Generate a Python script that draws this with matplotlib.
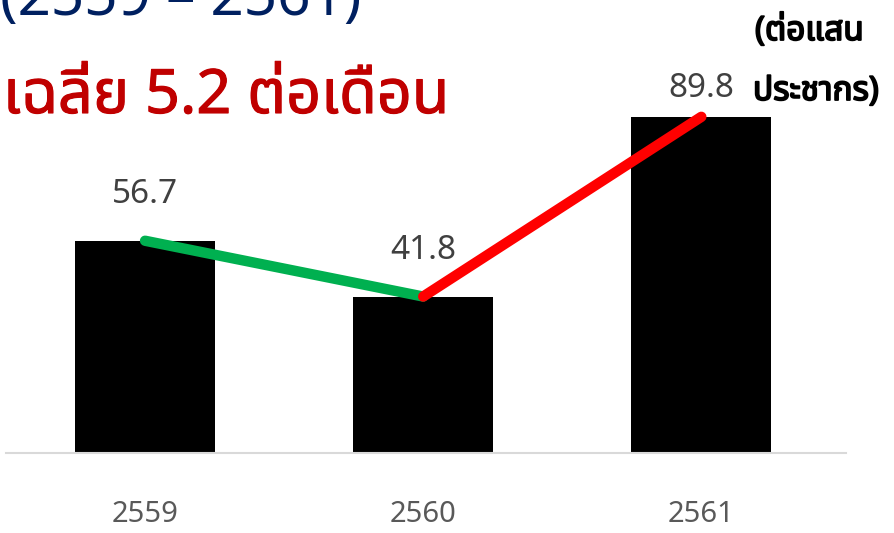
import matplotlib
matplotlib.use("Agg")
import matplotlib.pyplot as plt
import matplotlib.patheffects as pe

years = ["2559", "2560", "2561"]
rates = [56.7, 41.8, 89.8]
seg_colors = ["#00B050", "#FF0000"]
label_offsets = [27, 27, 14]

title_top = "(2559 – 2561)"
title_main = "เฉลี่ย 5.2 ต่อเดือน"
unit_lines = ["(ต่อแสน", "ประชากร)"]

thai = ["Noto Sans Thai", "DejaVu Sans"]

fig = plt.figure(figsize=(8.95, 5.33), dpi=100)
ax = fig.add_axes([0.0067, 0.150, 0.9385, 0.85])

x = list(range(len(years)))
ax.bar(x, rates, width=0.504, color="black", zorder=2)

# trend segments, coloured by direction
for i in range(len(x) - 1):
    ax.plot(x[i:i + 2], rates[i:i + 2], color=seg_colors[i], lw=7.5,
            solid_capstyle="round", zorder=3)

for xi, v, off in zip(x, rates, label_offsets):
    ax.annotate(f"{v:.1f}", (xi, v), xytext=(0, off), textcoords="offset points",
                ha="center", va="baseline", fontsize=24, color="#404040", family=thai)

ax.set_xlim(-0.5, 2.52)
ax.set_ylim(0, 121)
ax.set_xticks(x)
ax.set_xticklabels(years, family=thai, fontsize=21, color="#595959")
ax.tick_params(axis="x", length=0, pad=34)
ax.set_yticks([])
for s in ["top", "right", "left"]:
    ax.spines[s].set_visible(False)
ax.spines["bottom"].set_color("#D9D9D9")
ax.spines["bottom"].set_linewidth(1.5)
ax.patch.set_alpha(0)

fig.text(0.0, 1 - 15 / 533, title_top, family=thai, fontsize=42, color="#002060",
         va="baseline", ha="left")
fig.text(3 / 895, 1 - 113 / 533, title_main, family=thai, fontsize=44, color="#C00000",
         va="baseline", ha="left",
         path_effects=[pe.withStroke(linewidth=0.8, foreground="#C00000")])
# bold look via a thin outline (the Thai family has no bold face installed)
bold = [pe.withStroke(linewidth=1.3, foreground="black")]
fig.text(755 / 895, 1 - 40 / 533, unit_lines[0], family=thai, fontsize=24,
         color="black", va="baseline", ha="left", path_effects=bold)
fig.text(753 / 895, 1 - 100 / 533, unit_lines[1], family=thai, fontsize=24,
         color="black", va="baseline", ha="left", path_effects=bold)

fig.savefig("out.png", dpi=100)
